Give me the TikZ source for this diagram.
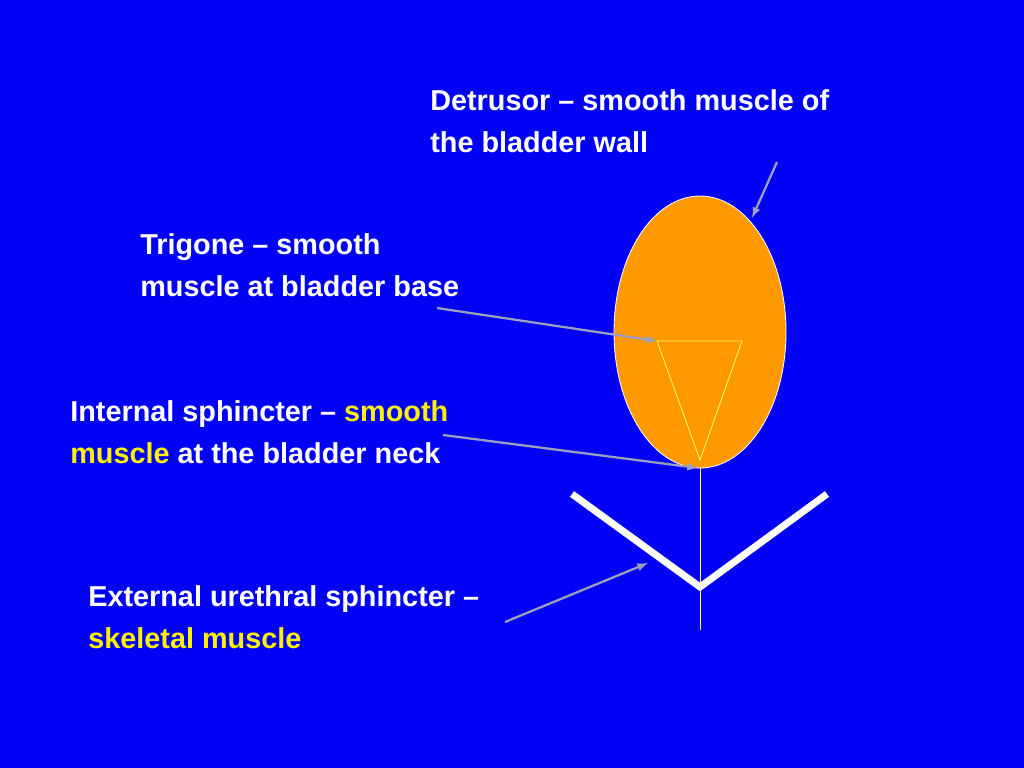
\documentclass[tikz,border=0pt]{standalone}
\usepackage{fontspec}
\setmainfont{Liberation Sans}
\usepackage{xcolor}
\definecolor{slideblue}{RGB}{0,0,245}
\definecolor{bladder}{RGB}{255,153,0}
\definecolor{pointer}{RGB}{155,160,190}
\begin{document}
\begin{tikzpicture}[x=0.025cm,y=-0.025cm,
  label/.style={anchor=north west, inner sep=0, align=left, text=white,
    font=\fontsize{20.5}{30}\selectfont\bfseries},
  pointer/.style={draw=pointer, line width=1.6pt, -latex}]

\fill[slideblue] (0,0) rectangle (1024,768);
\useasboundingbox (0,0) rectangle (1024,768);

% bladder
\draw[fill=bladder, draw=white, line width=0.6pt] (700,332) ellipse [x radius=86, y radius=136];
\draw[draw=yellow!60!white, line width=0.6pt] (657,341)--(742,341)--(700,460)--cycle;

% urethra and external sphincter
\draw[white, line width=0.6pt] (700,468)--(700,630);
\draw[white, line width=5pt] (572,494)--(700,587)--(827,494);

% labels
\node[label] (detrusor) at (430,89) {Detrusor -- smooth muscle of\\the bladder wall};
\node[label] (trigone) at (140,233) {Trigone -- smooth\\muscle at bladder base};
\node[label] (internal) at (70,400) {Internal sphincter -- \textcolor{yellow}{smooth}\\\textcolor{yellow}{muscle} at the bladder neck};
\node[label] (external) at (88,585) {External urethral sphincter --\\\textcolor{yellow}{skeletal muscle}};

\coordinate (wall) at (752,218);
\coordinate (tri) at (657,341);
\coordinate (neck) at (698,468);
\coordinate (ext) at (648,563);

\draw[pointer] (777,162) -- (wall);
\draw[pointer] (437,308) -- (tri);
\draw[pointer] (443,435) -- (neck);
\draw[pointer] (505,622) -- (ext);

\end{tikzpicture}
\end{document}
